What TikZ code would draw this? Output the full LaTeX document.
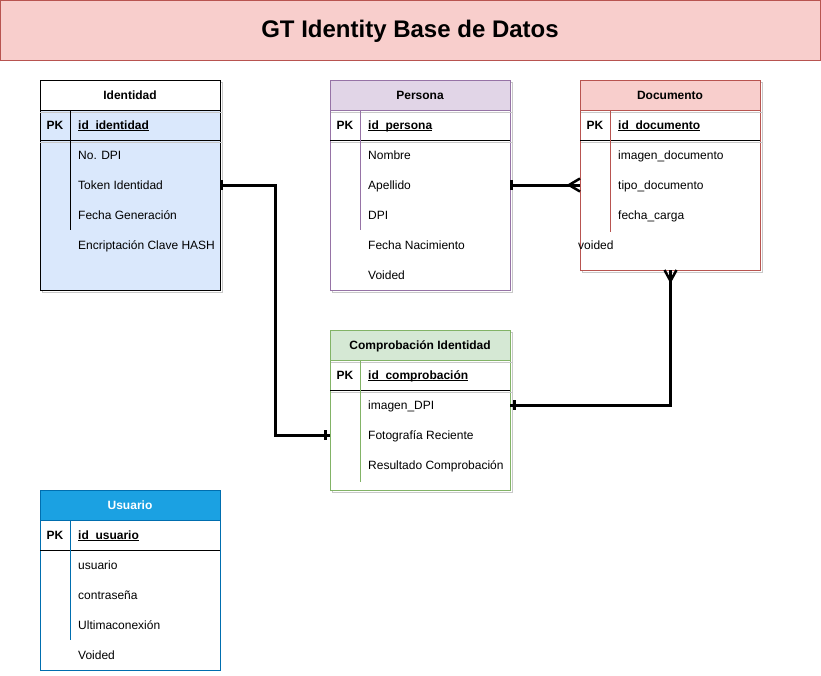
\documentclass[tikz,border=0pt]{standalone}
\usepackage{fontspec}
\setmainfont{Liberation Sans}
\definecolor{titlefill}{HTML}{F8CECC}
\definecolor{redstroke}{HTML}{B85450}
\definecolor{idfill}{HTML}{DAE8FC}
\definecolor{purplefill}{HTML}{E1D5E7}
\definecolor{purplestroke}{HTML}{9673A6}
\definecolor{greenfill}{HTML}{D5E8D4}
\definecolor{greenstroke}{HTML}{82B366}
\definecolor{bluefill}{HTML}{1BA1E2}
\definecolor{bluestroke}{HTML}{006EAF}
\definecolor{shadowgray}{HTML}{C8C8C8}
\newcommand\myul[1]{\setbox0\hbox{#1}\rlap{\rule[-1.8pt]{\wd0}{1pt}}\box0}
\tikzset{
  tablebox/.style={anchor=north west, inner sep=0pt, outer sep=0pt, line width=1pt},
  headtxt/.style={anchor=base, inner sep=0pt, yshift=-4.3pt, font=\fontsize{12}{14}\selectfont\bfseries},
  pktxt/.style={anchor=base, inner sep=0pt, yshift=-4.3pt, font=\fontsize{12}{14}\selectfont\bfseries},
  fieldtxt/.style={anchor=base west, inner sep=0pt, yshift=-4.3pt, font=\fontsize{12}{14}\selectfont},
  shadowline/.style={draw=shadowgray, line width=1pt},
  conn/.style={line width=3pt, line join=miter},
  barline/.style={line width=3pt},
  crowline/.style={line width=2.5pt, line cap=butt},
}
\begin{document}
\begin{tikzpicture}[x=1pt,y=-1pt]
\useasboundingbox (0,0) rectangle (821,675);

% Title
\node[tablebox, draw=redstroke, fill=titlefill, minimum width=820pt, minimum height=60pt] (title) at (0.5,0.5) {};
\node[anchor=base, inner sep=0pt, font=\fontsize{24}{28}\selectfont\bfseries] (titletext) at (410,37) {GT Identity Base de Datos};

% ---------- Identidad ----------
\draw[shadowline] (42.5,82.5) rectangle (222.5,292.5);
\node[tablebox, draw=black, fill=idfill, minimum width=180pt, minimum height=210pt] (identidad) at (40,80) {};
\node[tablebox, draw=black, fill=white, minimum width=180pt, minimum height=30pt] (identidadhead) at (40,80) {};
\draw[shadowline] (40,112) -- (222,112);
\draw[black, line width=1pt] (40,140) -- (220,140);
\draw[shadowline] (40,142.5) -- (222,142.5);
\draw[black, line width=1pt] (70,110) -- (70,230);
\node[headtxt] (identidadtitle) at (130,95) {Identidad};
\node[pktxt] (identidadpk) at (55,125) {PK};
\node[fieldtxt] (ididentidad) at (78,125) {\myul{\textbf{id\_identidad}}};
\node[fieldtxt] (nodpi) at (78,155) {No. DPI};
\node[fieldtxt] (token) at (78,185) {Token Identidad};
\node[fieldtxt] (fechagen) at (78,215) {Fecha Generación};
\node[fieldtxt] (encript) at (78,245) {Encriptación Clave HASH};

% ---------- Persona ----------
\draw[shadowline] (332.5,82.5) rectangle (512.5,292.5);
\node[tablebox, draw=purplestroke, fill=white, minimum width=180pt, minimum height=210pt] (persona) at (330,80) {};
\node[tablebox, draw=purplestroke, fill=purplefill, minimum width=180pt, minimum height=30pt] (personahead) at (330,80) {};
\draw[shadowline] (331,112) -- (512,112);
\draw[black, line width=1pt] (330,140) -- (510,140);
\draw[shadowline] (331,142.5) -- (512,142.5);
\draw[purplestroke, line width=1pt] (360,110) -- (360,230);
\node[headtxt] (personatitle) at (420,95) {Persona};
\node[pktxt] (personapk) at (345,125) {PK};
\node[fieldtxt] (idpersona) at (368,125) {\myul{\textbf{id\_persona}}};
\node[fieldtxt] (nombre) at (368,155) {Nombre};
\node[fieldtxt] (apellido) at (368,185) {Apellido};
\node[fieldtxt] (dpi) at (368,215) {DPI};
\node[fieldtxt] (fechanac) at (368,245) {Fecha Nacimiento};
\node[fieldtxt] (personavoided) at (368,275) {Voided};

% ---------- Documento ----------
\draw[shadowline] (582.5,82.5) rectangle (762.5,272.5);
\node[tablebox, draw=redstroke, fill=white, minimum width=180pt, minimum height=190pt] (documento) at (580,80) {};
\node[tablebox, draw=redstroke, fill=titlefill, minimum width=180pt, minimum height=30pt] (documentohead) at (580,80) {};
\draw[shadowline] (581,112) -- (762,112);
\draw[black, line width=1pt] (580,140) -- (760,140);
\draw[shadowline] (581,142.5) -- (762,142.5);
\draw[redstroke, line width=1pt] (610,110) -- (610,232);
\node[headtxt] (documentotitle) at (670,95) {Documento};
\node[pktxt] (documentopk) at (595,125) {PK};
\node[fieldtxt] (iddocumento) at (618,125) {\myul{\textbf{id\_documento}}};
\node[fieldtxt] (imagendoc) at (618,155) {imagen\_documento};
\node[fieldtxt] (tipodoc) at (618,185) {tipo\_documento};
\node[fieldtxt] (fechacarga) at (618,215) {fecha\_carga};
\node[fieldtxt] (documentovoided) at (578,245) {voided};

% ---------- Comprobacion Identidad ----------
\draw[shadowline] (332.5,332.5) rectangle (512.5,492.5);
\node[tablebox, draw=greenstroke, fill=white, minimum width=180pt, minimum height=160pt] (comprobacion) at (330,330) {};
\node[tablebox, draw=greenstroke, fill=greenfill, minimum width=180pt, minimum height=30pt] (comprobacionhead) at (330,330) {};
\draw[shadowline] (331,362) -- (512,362);
\draw[black, line width=1pt] (330,390) -- (510,390);
\draw[shadowline] (331,392.5) -- (512,392.5);
\draw[greenstroke, line width=1pt] (360,360) -- (360,482);
\node[headtxt] (comprobaciontitle) at (420,345) {Comprobación Identidad};
\node[pktxt] (comprobacionpk) at (345,375) {PK};
\node[fieldtxt] (idcomprobacion) at (368,375) {\myul{\textbf{id\_comprobación}}};
\node[fieldtxt] (imagendpi) at (368,405) {imagen\_DPI};
\node[fieldtxt] (fotografia) at (368,435) {Fotografía Reciente};
\node[fieldtxt] (resultado) at (368,465) {Resultado Comprobación};

% ---------- Usuario ----------
\node[tablebox, draw=bluestroke, fill=white, minimum width=180pt, minimum height=180pt] (usuario) at (40,490) {};
\node[tablebox, draw=bluestroke, fill=bluefill, minimum width=180pt, minimum height=30pt] (usuariohead) at (40,490) {};
\draw[black, line width=1pt] (40,550) -- (220,550);
\draw[bluestroke, line width=1pt] (70,520) -- (70,640);
\node[headtxt, text=white] (usuariotitle) at (130,505) {Usuario};
\node[pktxt] (usuariopk) at (55,535) {PK};
\node[fieldtxt] (idusuario) at (78,535) {\myul{\textbf{id\_usuario}}};
\node[fieldtxt] (usuariofield) at (78,565) {usuario};
\node[fieldtxt] (contrasena) at (78,595) {contraseña};
\node[fieldtxt] (ultima) at (78,625) {Ultimaconexión};
\node[fieldtxt] (usuariovoided) at (78,655) {Voided};

% ---------- Connectors ----------
% Identidad -> Comprobacion
\coordinate (comleft) at (comprobacion.west |- 0,435);
\draw[conn] (identidad.east) -- ++(55.5,0) |- (comleft);
\draw[barline] ([xshift=1.5pt,yshift=5pt]identidad.east) -- ([xshift=1.5pt,yshift=-5pt]identidad.east);
\draw[barline] ([xshift=-4.5pt,yshift=5pt]comleft) -- ([xshift=-4.5pt,yshift=-5pt]comleft);

% Persona -> Documento
\coordinate (docleft) at (documento.west |- persona.east);
\draw[conn] (persona.east) -- (docleft);
\draw[barline] ([xshift=1.5pt,yshift=5pt]persona.east) -- ([xshift=1.5pt,yshift=-5pt]persona.east);
\coordinate (crowtipa) at ([xshift=-11pt]docleft);
\draw[crowline] ([yshift=6.5pt]docleft) -- (crowtipa) -- ([yshift=-6.5pt]docleft);

% Documento -> Comprobacion
\coordinate (docbottom) at ([xshift=0.5pt]documento.south);
\coordinate (comright) at (comprobacion.east |- 0,405);
\draw[conn] (docbottom) -- (docbottom |- comright) -- (comright);
\draw[barline] ([xshift=4.5pt,yshift=5pt]comright) -- ([xshift=4.5pt,yshift=-5pt]comright);
\coordinate (crowtipb) at ([yshift=-11pt]docbottom);
\draw[crowline] ([xshift=-6pt]docbottom) -- (crowtipb) -- ([xshift=6pt]docbottom);
\end{tikzpicture}
\end{document}
